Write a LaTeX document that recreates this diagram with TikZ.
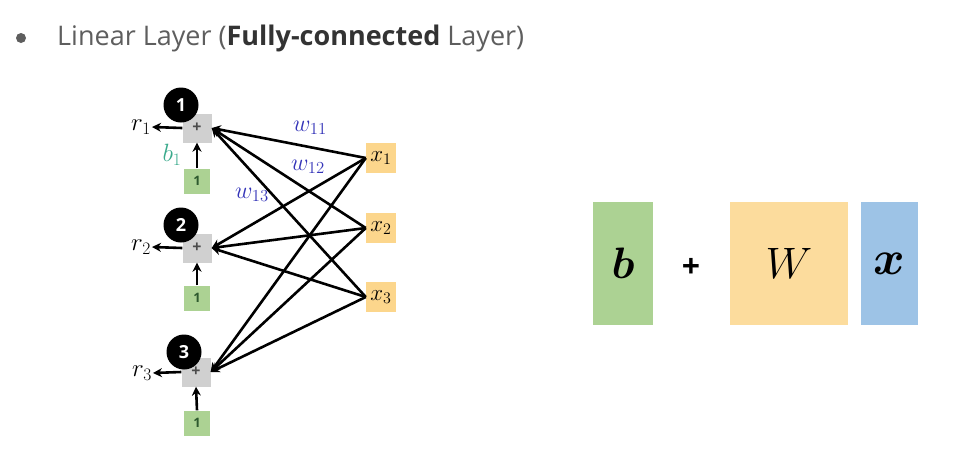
\RequirePackage{fix-cm}
\documentclass[tikz,border=0pt]{standalone}
\usepackage{bm}
\usepackage{fontspec}
\setmainfont{Open Sans}
\usetikzlibrary{arrows.meta}
\definecolor{plusgray}{HTML}{D0D0D0}
\definecolor{gbox}{HTML}{ACD293}
\definecolor{obox}{HTML}{FCD68C}
\definecolor{bbox}{HTML}{9DC3E6}
\definecolor{wblue}{HTML}{3434B8}
\definecolor{bteal}{HTML}{3AAA8C}
\definecolor{gtext}{HTML}{2E5A2E}
\definecolor{titlegray}{HTML}{5E5E5E}
\tikzset{
  plusbox/.style={fill=plusgray,minimum width=29pt,minimum height=29pt,inner sep=0pt,font=\fontsize{16}{16}\selectfont\bfseries,text=black!70},
  onebox/.style={fill=gbox,minimum width=26pt,minimum height=25pt,inner sep=0pt,font=\fontsize{13}{13}\selectfont\bfseries,text=gtext},
  xbox/.style={fill=obox,minimum width=30pt,minimum height=30pt,inner sep=0pt,font=\fontsize{23}{23}\selectfont},
  numcirc/.style={circle,fill=black,minimum size=35pt,inner sep=0pt,text=white,font=\fontsize{18}{18}\selectfont\bfseries},
  rlab/.style={inner sep=1pt,font=\fontsize{25}{27}\selectfont},
  wlab/.style={inner sep=0pt,text=wblue,font=\fontsize{24}{26}\selectfont},
  conn/.style={line width=2.6pt,-{Stealth[length=9pt,width=9pt]}},
  bigbox/.style={inner sep=0pt,minimum height=123pt}
}
\begin{document}
\begin{tikzpicture}[x=1pt,y=-1pt]
\useasboundingbox (0,0) rectangle (977,450);
% title
\fill[titlegray] (21,38) circle (5);
\node[anchor=west,inner sep=0pt,text=titlegray,font=\fontsize{27}{30}\selectfont] (title) at (57,38)
  {Linear Layer (\textbf{\color{black!80}Fully-connected} Layer)};
% plus boxes
\node[plusbox] (p1) at (197,128) {+};
\node[plusbox] (p2) at (197,248) {+};
\node[plusbox] (p3) at (196,372) {+};
% number circles
\node[numcirc] (c1) at (181,105) {1};
\node[numcirc] (c2) at (181,225) {2};
\node[numcirc] (c3) at (184,352) {3};
% ones
\node[onebox] (g1) at (197,181) {1};
\node[onebox] (g2) at (197,298) {1};
\node[onebox] (g3) at (197,423) {1};
% inputs
\node[xbox] (x1) at (381,158) {$x_1$};
\node[xbox] (x2) at (381,228) {$x_2$};
\node[xbox] (x3) at (381,297) {$x_3$};
% outputs
\node[rlab] (r1) at (141,127) {$r_1$};
\node[rlab] (r2) at (141,247) {$r_2$};
\node[rlab] (r3) at (142,373) {$r_3$};
\foreach \i in {1,2,3}{
  \draw[conn] (p\i.west) -- (r\i.east);
  \draw[conn] (g\i.north) -- (p\i.south);
  \foreach \j in {1,2,3}{
    \draw[conn] (x\j.west) -- (p\i.east);
  }
}
% labels
\node[inner sep=0pt,text=bteal,font=\fontsize{25}{27}\selectfont] (b1) at (172,155) {$b_1$};
\node[wlab] (w11) at (310,128) {$w_{11}$};
\node[wlab] (w12) at (308,167) {$w_{12}$};
\node[wlab] (w13) at (252,195) {$w_{13}$};
% right side
\node[bigbox,fill=gbox,minimum width=60pt,font=\fontsize{44}{44}\selectfont] (B) at (623,263.5) {$\bm{b}$};
\node[inner sep=0pt,font=\fontsize{32}{32}\selectfont\bfseries] (plus) at (691,268) {+};
\node[bigbox,fill=obox!85!white,minimum width=118pt,font=\fontsize{44}{44}\selectfont] (W) at (789,263.5) {$W$};
\node[bigbox,fill=bbox,minimum width=57pt,font=\fontsize{48}{48}\selectfont] (X) at (889.5,263.5) {$\bm{x}$};
\end{tikzpicture}
\end{document}
